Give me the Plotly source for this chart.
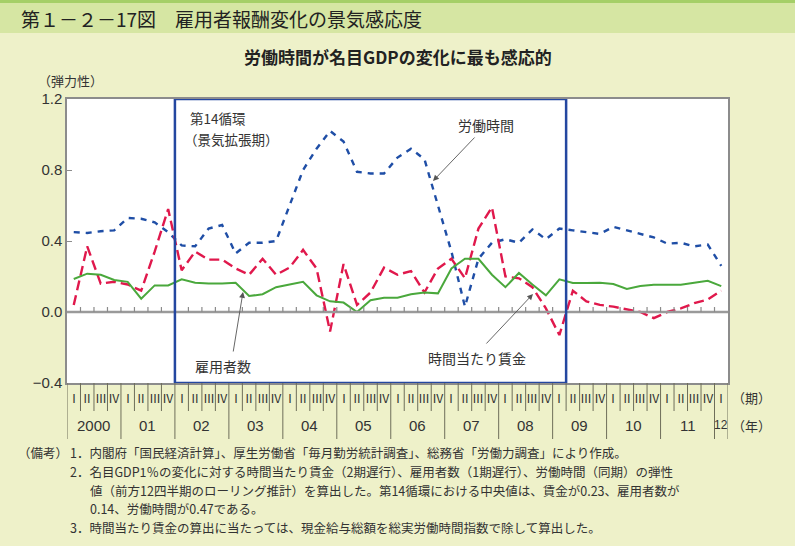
import plotly.graph_objects as go

# ---- data -------------------------------------------------------------
years = ["2000", "01", "02", "03", "04", "05", "06", "07", "08", "09", "10", "11", "12"]
quarter_names = ["Ⅰ", "Ⅱ", "Ⅲ", "Ⅳ"]
n_quarters = 49  # 2000Q1 .. 2012Q1

hours = [0.45, 0.445, 0.455, 0.46, 0.53, 0.525, 0.505, 0.45, 0.375, 0.37, 0.47, 0.49,
         0.33, 0.39, 0.39, 0.40, 0.60, 0.80, 0.92, 1.02, 0.96, 0.79, 0.78, 0.78,
         0.87, 0.92, 0.86, 0.60, 0.34, 0.03, 0.30, 0.39, 0.41, 0.39, 0.465, 0.41,
         0.47, 0.46, 0.45, 0.44, 0.48, 0.46, 0.44, 0.42, 0.385, 0.39, 0.37, 0.38, 0.26]

wage = [0.04, 0.37, 0.16, 0.17, 0.155, 0.12, 0.34, 0.58, 0.235, 0.34, 0.295, 0.295,
        0.245, 0.21, 0.30, 0.21, 0.25, 0.35, 0.245, -0.11, 0.27, 0.04, 0.11, 0.25,
        0.21, 0.23, 0.11, 0.245, 0.30, 0.19, 0.47, 0.59, 0.20, 0.19, 0.14, 0.02,
        -0.13, 0.12, 0.06, 0.04, 0.03, 0.013, 0.0, -0.035, 0.0, 0.02, 0.05, 0.07, 0.12]

employees = [0.186, 0.216, 0.21, 0.18, 0.17, 0.075, 0.15, 0.15, 0.184, 0.165, 0.16, 0.16,
             0.165, 0.09, 0.10, 0.14, 0.155, 0.17, 0.094, 0.06, 0.053, 0.0, 0.066, 0.08,
             0.08, 0.10, 0.11, 0.105, 0.245, 0.30, 0.30, 0.21, 0.14, 0.22, 0.155, 0.094,
             0.184, 0.163, 0.163, 0.165, 0.158, 0.13, 0.146, 0.154, 0.154, 0.154, 0.165, 0.176, 0.146]

cycle_start, cycle_end = 8, 36  # 2002Q1 .. 2009Q1 (box)

notes = [
    (16, 453, "（備考）"),
    (68, 453, "1．内閣府「国民経済計算」、厚生労働省「毎月勤労統計調査」、総務省「労働力調査」により作成。"),
    (68, 471.5, "2．名目GDP1％の変化に対する時間当たり賃金（2期遅行）、雇用者数（1期遅行）、労働時間（同期）の弾性"),
    (88, 490, "値（前方12四半期のローリング推計）を算出した。第14循環における中央値は、賃金が0.23、雇用者数が"),
    (88, 508.5, "0.14、労働時間が0.47である。"),
    (68, 527, "3．時間当たり賃金の算出に当たっては、現金給与総額を総実労働時間指数で除して算出した。"),
]

x = list(range(n_quarters))

# ---- geometry helpers -------------------------------------------------
W, H = 795, 546
L, R, T, B = 67, 728, 99, 383


def px(xp):
    return (xp - L) / (R - L)


def py(yp):
    return (B - yp) / (B - T)


JP = "Noto Sans CJK JP"
TXT = "#333333"

fig = go.Figure()

fig.add_trace(go.Scatter(x=x, y=hours, mode="lines", name="労働時間",
                         line=dict(color="#1f4ea6", width=2.4, dash="6px,6px")))
fig.add_trace(go.Scatter(x=x, y=wage, mode="lines", name="時間当たり賃金",
                         line=dict(color="#e0184c", width=2.4, dash="10px,5px")))
fig.add_trace(go.Scatter(x=x, y=employees, mode="lines", name="雇用者数",
                         line=dict(color="#4aa83c", width=2)))

shapes = []
# title band
shapes.append(dict(type="rect", xref="paper", yref="paper", x0=px(0), x1=px(W),
                   y0=py(33), y1=py(0), fillcolor="#d6e6a3", line=dict(width=0), layer="below"))
shapes.append(dict(type="line", xref="paper", yref="paper", x0=px(0), x1=px(W),
                   y0=py(1.5), y1=py(1.5), line=dict(color="#a5cf67", width=3)))
# zero line
shapes.append(dict(type="line", xref="paper", yref="y", x0=0, x1=1, y0=0, y1=0,
                   line=dict(color="#9a9a9a", width=2.5)))
# small ticks on the zero line
for k in range(1, n_quarters):
    shapes.append(dict(type="line", xref="x", yref="y", x0=k - 0.5, x1=k - 0.5,
                       y0=0, y1=0.028, line=dict(color="#8a8a8a", width=1.2)))
# business cycle box
shapes.append(dict(type="rect", xref="x", yref="y", x0=cycle_start - 0.5, x1=cycle_end + 0.5,
                   y0=-0.4, y1=1.2, line=dict(color="#2447a0", width=2.5)))
# category axis separators below the plot
for k in range(0, n_quarters + 1):
    is_year = (k % 4 == 0) or k == n_quarters
    shapes.append(dict(type="line", xref="x", yref="paper", x0=k - 0.5, x1=k - 0.5,
                       y0=py(439 if is_year else 411), y1=py(383),
                       line=dict(color="#6e6e5a", width=1)))

annotations = []


def txt(xp, yp, text, size=13, xanchor="center", family=JP, color=TXT, xref="paper", xval=None,
        yanchor="middle"):
    annotations.append(dict(x=px(xp) if xval is None else xval, y=py(yp), xref=xref, yref="paper",
                            text=text, xanchor=xanchor, yanchor=yanchor, showarrow=False, align="left",
                            font=dict(family=family, size=size, color=color)))


# quarter labels
for k in range(n_quarters):
    txt(0, 397, quarter_names[k % 4], size=12, xref="x", xval=k)
# year labels
for j, yl in enumerate(years):
    first = j * 4
    last = min(first + 3, n_quarters - 1)
    txt(0, 425, yl, size=15 if last > first else 12, family="Liberation Sans",
        xref="x", xval=(first + last) / 2)
txt(730, 397, "（期）", size=13, xanchor="left")
txt(730, 425, "（年）", size=13, xanchor="left")

# titles
txt(19, 18, "第１－２－17図　雇用者報酬変化の景気感応度", size=19, xanchor="left", color="#222222")
txt(398, 57, "<b>労働時間が名目GDPの変化に最も感応的</b>", size=17, color="#222222")
txt(36, 80, "（弾力性）", size=13, xanchor="left")

# in-chart labels
txt(188, 118.5, "第14循環", size=13.5, xanchor="left")
txt(182, 138.5, "（景気拡張期）", size=13.5, xanchor="left")
txt(486, 125, "労働時間", size=14)
txt(223, 366, "雇用者数", size=14)
txt(477, 358, "時間当たり賃金", size=14)

# arrows
for (hx, hy, tx, ty) in [(433, 181, 476, 136), (243, 292, 233, 353), (533, 294, 485, 345)]:
    annotations.append(dict(x=px(hx), y=py(hy), xref="paper", yref="paper", text="",
                            showarrow=True, ax=tx - hx, ay=ty - hy, arrowhead=2, arrowsize=1.3,
                            arrowwidth=0.9, arrowcolor="#555555"))

# notes
for (nx, ny, t) in notes:
    txt(nx, ny, t, size=12.5, xanchor="left")

fig.update_layout(
    width=W, height=H,
    margin=dict(l=L, r=W - R, t=T, b=H - B),
    paper_bgcolor="#eef1c9",
    plot_bgcolor="#ffffff",
    showlegend=False,
    shapes=shapes,
    annotations=annotations,
    xaxis=dict(range=[-0.5, n_quarters - 0.5], showticklabels=False, ticks="", showgrid=False,
               zeroline=False, showline=True, mirror=True, linecolor="#8c8c8c", linewidth=1.5),
    yaxis=dict(range=[-0.4, 1.2], tickvals=[-0.4, 0.0, 0.4, 0.8, 1.2], tickformat=".1f",
               ticks="inside", ticklen=5, tickcolor="#8c8c8c", showgrid=False, zeroline=False,
               showline=True, mirror=True, linecolor="#8c8c8c", linewidth=1.5,
               tickfont=dict(family="Liberation Sans", size=15, color=TXT)),
)

fig.write_html("out.html", config={"displayModeBar": False},
               post_script="document.body.style.margin='0';")
